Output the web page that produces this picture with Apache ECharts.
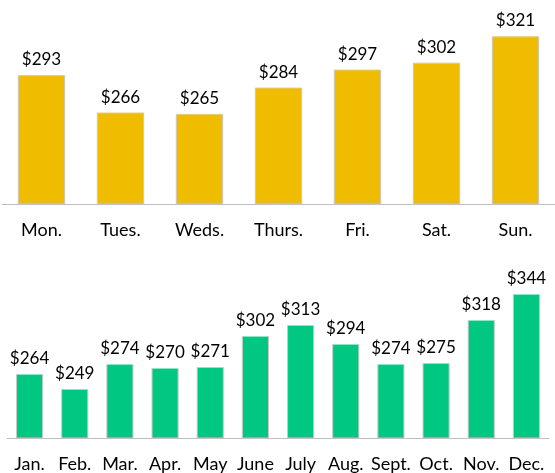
<!DOCTYPE html>
<html>
<head>
<meta charset="utf-8">
<script src="https://cdn.jsdelivr.net/npm/echarts@6/dist/echarts.min.js"></script>
<style>
  html, body { margin: 0; padding: 0; background: #fff; }
  #chart { width: 555px; height: 473px; }
</style>
</head>
<body>
<div id="chart"></div>
<script>
  // spending by day of week
  const days = ['Mon.', 'Tues.', 'Weds.', 'Thurs.', 'Fri.', 'Sat.', 'Sun.']
  const dayValues = [293, 266, 265, 284, 297, 302, 321]

  // spending by month
  const months = ['Jan.', 'Feb.', 'Mar.', 'Apr.', 'May', 'June', 'July', 'Aug.', 'Sept.', 'Oct.', 'Nov.', 'Dec.']
  const monthValues = [264, 249, 274, 270, 271, 302, 313, 294, 274, 275, 318, 344]

  const font = 'Lato, "Open Sans", sans-serif'

  const chart = echarts.init(document.getElementById('chart'))

  function xAxis(idx, data) {
    return {
      type: 'category',
      gridIndex: idx,
      data: data,
      axisTick: { show: false },
      axisLine: { lineStyle: { color: '#bfbfbf', width: 1 } },
      axisLabel: {
        color: '#000',
        fontSize: 18,
        fontFamily: font,
        margin: 17,
        interval: 0
      }
    }
  }

  function yAxis(idx, max) {
    return {
      type: 'value',
      gridIndex: idx,
      min: 200,
      max: max,
      show: false,
      splitLine: { show: false }
    }
  }

  function barSeries(idx, data, color) {
    return {
      type: 'bar',
      xAxisIndex: idx,
      yAxisIndex: idx,
      data: data,
      barWidth: '60%',
      itemStyle: {
        color: color,
        borderColor: '#c8c8c8',
        borderWidth: 1
      },
      label: {
        show: true,
        position: 'top',
        distance: 7,
        formatter: p => '$' + p.value,
        color: '#000',
        fontSize: 17,
        fontFamily: font
      }
    }
  }

  chart.setOption({
    backgroundColor: '#fff',
    animation: false,
    grid: [
      { left: 2, width: 558, top: 10, height: 194 },
      { left: 7, width: 542, top: 288, height: 152 }
    ],
    xAxis: [xAxis(0, days), xAxis(1, months)],
    yAxis: [yAxis(0, 340), yAxis(1, 350)],
    series: [
      barSeries(0, dayValues, '#f0bc00'),
      barSeries(1, monthValues, '#00c882')
    ]
  })
</script>
</body>
</html>
